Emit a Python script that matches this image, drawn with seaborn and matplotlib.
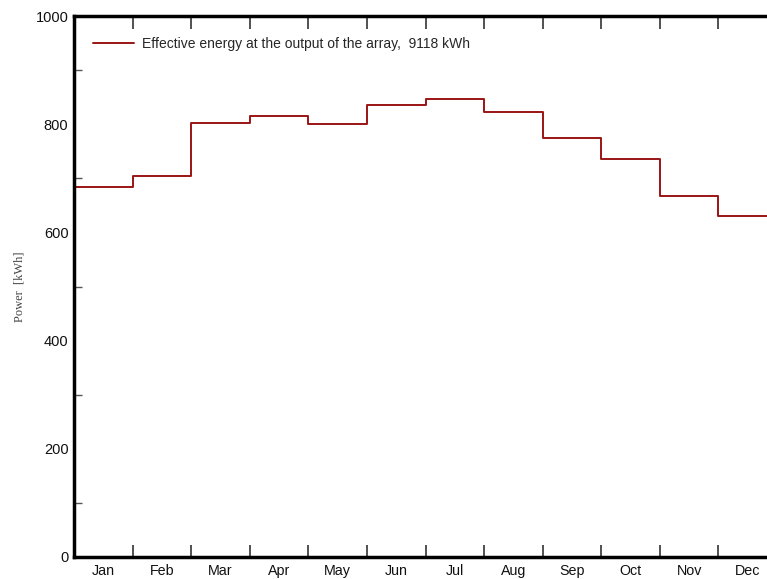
import matplotlib
matplotlib.use("Agg")
import matplotlib.pyplot as plt
import seaborn as sns
import numpy as np
import pandas as pd
from matplotlib.ticker import MultipleLocator, FixedLocator

months = ["Jan", "Feb", "Mar", "Apr", "May", "Jun", "Jul", "Aug", "Sep", "Oct", "Nov", "Dec"]
energy = [683, 704, 802, 816, 800, 835, 847, 823, 774, 736, 667, 631]
legend_label = "Effective energy at the output of the array,  9118 kWh"

sns.set_theme(style="white")
plt.rcParams['font.family'] = ['Liberation Sans', 'DejaVu Sans']

W, H = 767, 579
fig = plt.figure(figsize=(W / 100, H / 100), dpi=100)
left, right, top, bottom = 74, 777, 16, 557
ax = fig.add_axes([left / W, (H - bottom) / H, (right - left) / W, (bottom - top) / H])

df = pd.DataFrame({
    "x": np.arange(len(months) + 1),
    "y": energy + [energy[-1]],
})
sns.lineplot(data=df, x="x", y="y", ax=ax, drawstyle="steps-post",
             color="#9a1414", linewidth=1.4, label=legend_label)

ax.set_xlim(0, len(months))
ax.set_ylim(0, 1000)

ax.xaxis.set_major_locator(FixedLocator(np.arange(1, len(months))))
ax.xaxis.set_minor_locator(FixedLocator(np.arange(len(months)) + 0.5))
ax.set_xticklabels([])
ax.set_xticklabels(months, minor=True)
ax.tick_params(axis="x", which="major", direction="in", length=9, width=1.2,
               color="#333333", top=True, bottom=True)
ax.tick_params(axis="x", which="minor", length=0, pad=5, labelsize=10.3, labelcolor="#111111")

ax.yaxis.set_major_locator(MultipleLocator(200))
ax.yaxis.set_minor_locator(MultipleLocator(100))
ax.tick_params(axis="y", which="major", direction="in", length=11, width=1.2,
               color="#777777", labelsize=10.5, pad=4, labelcolor="#111111")
ax.tick_params(axis="y", which="minor", direction="in", length=6, width=1.0,
               color="#555555", left=True)

for side in ["left", "bottom", "top"]:
    ax.spines[side].set_linewidth(2.5)
    ax.spines[side].set_color("black")
ax.spines["right"].set_visible(False)

ax.set_xlabel("")
ax.set_ylabel("Power  [kWh]", family=["Liberation Serif", "DejaVu Serif"],
              fontsize=9, color="#444444")
ax.yaxis.set_label_coords((26 - left) / (right - left), 0.5)

leg = ax.legend(loc="upper left", frameon=False, fontsize=10,
                handlelength=3.0, handletextpad=0.55,
                bbox_to_anchor=(6 / (right - left), 0.985))

fig.savefig("out.png", dpi=100)
